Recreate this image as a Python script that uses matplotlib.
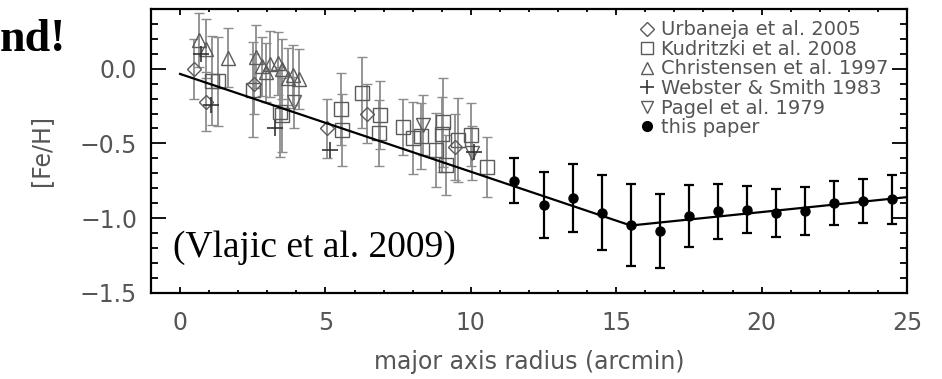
import numpy as np
import matplotlib.pyplot as plt
from matplotlib.lines import Line2D

# Urbaneja et al. 2005 (diamonds)
urb_r = [0.47, 0.88, 2.53, 5.07, 6.43, 9.46]
urb_feh = [0.0, -0.22, -0.10, -0.40, -0.30, -0.525]
urb_err = [0.20, 0.20, 0.20, 0.20, 0.20, 0.22]

# Kudritzki et al. 2008 (squares)
kud_r = [1.1, 1.3, 2.5, 3.42, 3.5, 5.54, 5.56, 6.24, 6.88, 6.83, 7.68, 8.0, 8.29,
         8.79, 9.0, 9.06, 9.15, 9.55, 10.02, 10.54]
kud_feh = [-0.08, -0.085, -0.14, -0.29, -0.31, -0.27, -0.41, -0.16, -0.31, -0.43,
           -0.39, -0.465, -0.45, -0.545, -0.44, -0.36, -0.647, -0.478, -0.442, -0.658]
kud_err = [0.30, 0.30, 0.32, 0.30, 0.25, 0.24, 0.24, 0.24, 0.23, 0.22, 0.19, 0.24,
           0.22, 0.25, 0.25, 0.30, 0.20, 0.28, 0.21, 0.20]

# Christensen et al. 1997 (triangles)
chr_r = [0.65, 0.88, 1.64, 2.6, 2.82, 2.95, 3.1, 3.38, 3.5, 3.72, 3.88, 4.1]
chr_feh = [0.19, 0.135, 0.075, 0.08, 0.015, -0.025, 0.03, 0.035, 0.0, -0.06, -0.04, -0.07]
chr_err = [0.18, 0.20, 0.20, 0.21, 0.20, 0.20, 0.22, 0.21, 0.20, 0.20, 0.20, 0.20]

# Webster & Smith 1983 (plus)
web_r = [0.72, 1.07, 3.25, 5.17, 10.12]
web_feh = [0.10, -0.245, -0.40, -0.545, -0.56]

# Pagel et al. 1979 (inverted triangles)
pag_r = [3.93, 8.37, 10.03]
pag_feh = [-0.225, -0.375, -0.565]
pag_err = [0.17, 0.20, 0.18]

# this paper
r = [11.5, 12.5, 13.5, 14.5, 15.5, 16.5, 17.5, 18.5, 19.5, 20.5, 21.5, 22.5, 23.5, 24.5]
feh = [-0.751, -0.913, -0.865, -0.963, -1.048, -1.086, -0.986, -0.955, -0.943,
       -0.968, -0.952, -0.899, -0.886, -0.874]
feh_err = [0.15, 0.22, 0.23, 0.248, 0.273, 0.249, 0.205, 0.184, 0.158, 0.16, 0.16,
           0.146, 0.15, 0.163]

# broken-line gradient fit
fit_r = [0.0, 15.5, 25.0]
fit_feh = [-0.035, -1.05, -0.86]

plt.rcParams['font.family'] = 'DejaVu Sans'
fig = plt.figure(figsize=(9.42, 3.79), dpi=100)
ax = fig.add_axes([0.1603, 0.2277, 0.8025, 0.7486])

grey = '#8c8c8c'
edge = '#5a5a5a'
txt = '#555555'
ebkw = dict(ls='none', ecolor=grey, elinewidth=1.3, capsize=3.6, capthick=1.3,
            mfc='none', mec=edge, mew=1.0, zorder=2)

ax.errorbar(chr_r, chr_feh, yerr=chr_err, marker='^', ms=10, **ebkw)
ax.errorbar(kud_r, kud_feh, yerr=kud_err, marker='s', ms=9.5, **ebkw)
ax.errorbar(urb_r, urb_feh, yerr=urb_err, marker='D', ms=7.5, **ebkw)
ax.errorbar(pag_r, pag_feh, yerr=pag_err, marker='v', ms=10, **ebkw)
ax.plot(web_r, web_feh, ls='none', marker='+', ms=12, mew=1.2, color='#333333', zorder=3)

ax.plot(fit_r, fit_feh, color='black', lw=1.6, zorder=4)
ax.errorbar(r, feh, yerr=feh_err, fmt='o', color='black', ms=6.5, elinewidth=1.6,
            capsize=3.6, capthick=1.6, zorder=5)

ax.set_xlim(-1, 25)
ax.set_ylim(-1.5, 0.4)
ax.set_xticks(np.arange(0, 26, 5))
ax.set_xticks(np.arange(-1, 26, 1), minor=True)
ax.set_yticks([-1.5, -1.0, -0.5, 0.0])
ax.set_yticks(np.arange(-1.5, 0.41, 0.1), minor=True)
ax.set_yticklabels(['\u22121.5', '\u22121.0', '\u22120.5', '0.0'])

for s in ax.spines.values():
    s.set_linewidth(1.6)
ax.tick_params(which='both', direction='in', top=True, right=True, width=1.3,
               labelsize=17, labelcolor=txt)
ax.tick_params(axis='x', which='major', length=4.5, pad=13)
ax.tick_params(axis='x', which='minor', length=2.2)
ax.tick_params(axis='y', which='major', length=10.5, pad=10)
ax.tick_params(axis='y', which='minor', length=5)

ax.set_xlabel('major axis radius (arcmin)', fontsize=17, color=txt, labelpad=11)
ax.set_ylabel('[Fe/H]', fontsize=17, color=txt, labelpad=19)

handles = [
    Line2D([], [], ls='none', marker='D', ms=7, mfc='none', mec=edge),
    Line2D([], [], ls='none', marker='s', ms=9, mfc='none', mec=edge),
    Line2D([], [], ls='none', marker='^', ms=9, mfc='none', mec=edge),
    Line2D([], [], ls='none', marker='+', ms=10, mew=1.2, color='#333333'),
    Line2D([], [], ls='none', marker='v', ms=9, mfc='none', mec=edge),
    Line2D([], [], ls='none', marker='o', ms=7, color='black'),
]
labels = ['Urbaneja et al. 2005', 'Kudritzki et al. 2008', 'Christensen et al. 1997',
          'Webster & Smith 1983', 'Pagel et al. 1979', 'this paper']
leg = ax.legend(handles, labels, loc='upper right', bbox_to_anchor=(0.975, 0.96),
                frameon=False, fontsize=14, handlelength=0.7, handletextpad=0.35,
                labelspacing=0.03, borderaxespad=0, borderpad=0)
for t in leg.get_texts():
    t.set_color(txt)

fig.text(0.1837, 0.3456, '(Vlajic et al. 2009)', family='Liberation Serif',
         fontsize=27, va='center', ha='left')
fig.text(0.0, 0.895, 'nd!', family='Liberation Serif', weight='bold',
         fontsize=33, va='center', ha='left')

fig.savefig('out.png', dpi=100)
